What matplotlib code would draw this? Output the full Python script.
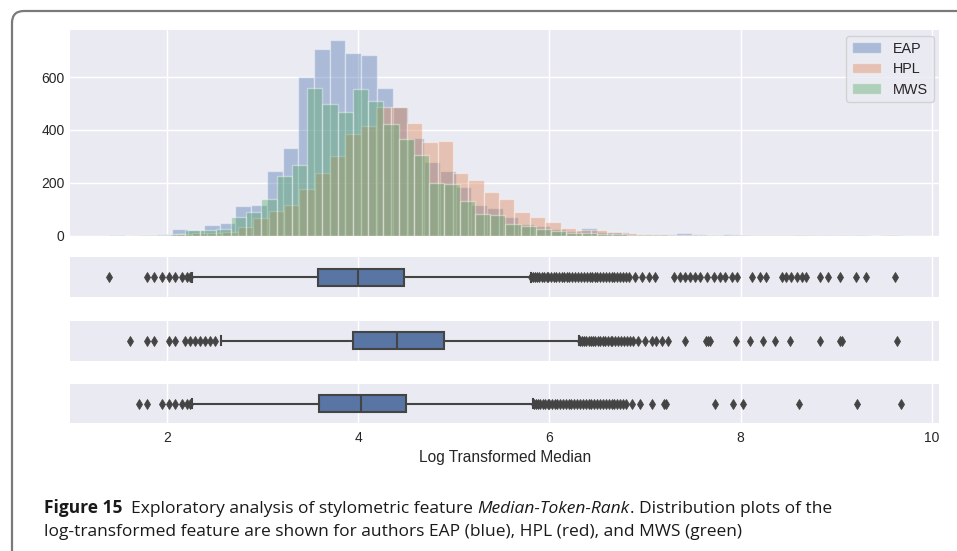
import matplotlib
matplotlib.use("Agg")
import matplotlib.pyplot as plt
import numpy as np
from matplotlib.patches import FancyBboxPatch

# ---------------- data ----------------
authors = ["EAP", "HPL", "MWS"]
hist_colors = ["#4C72B0", "#DD8452", "#55A868"]

# value range (min, max) of each author's log-transformed feature -> 50 bins each
eap_range = (1.396, 9.627)
hpl_range = (1.613, 9.654)
mws_range = (1.710, 9.686)

eap_counts = [1, 0, 3, 4, 23, 19, 38, 48, 111, 115,
              244, 330, 600, 707, 741, 693, 684, 558, 488, 370,
              279, 243, 185, 115, 103, 71, 43, 35, 25, 18,
              29, 15, 14, 6, 5, 4, 10, 4, 3, 4,
              2, 3, 1, 3, 2, 2, 1, 2, 0, 1]
hpl_counts = [1, 2, 3, 5, 8, 10, 15, 33, 68, 92,
              115, 178, 238, 301, 384, 415, 488, 488, 427, 354,
              357, 238, 210, 165, 137, 90, 70, 53, 30, 22,
              22, 12, 10, 6, 4, 3, 2, 3, 0, 1,
              1, 1, 1, 1, 1, 0, 2, 0, 0, 1]
mws_counts = [1, 2, 6, 20, 20, 23, 69, 90, 139, 226,
              269, 560, 497, 469, 554, 511, 423, 364, 306, 198,
              195, 130, 83, 77, 42, 35, 23, 16, 10, 8,
              6, 5, 3, 3, 2, 0, 0, 1, 1, 1,
              0, 0, 0, 1, 0, 0, 0, 1, 0, 1]

# box-plot statistics
eap_box = dict(whislo=2.258, q1=3.583, med=3.995, q3=4.482, whishi=5.804)
hpl_box = dict(whislo=2.565, q1=3.949, med=4.409, q3=4.901, whishi=6.310)
mws_box = dict(whislo=2.258, q1=3.593, med=4.029, q3=4.500, whishi=5.832)

eap_fliers = [1.386, 1.788, 1.867, 1.945, 2.014, 2.084, 2.154, 2.206, 2.241,
              5.81, 5.83, 5.85, 5.87, 5.89, 5.92, 5.94, 5.97, 5.99, 6.02, 6.05,
              6.07, 6.10, 6.13, 6.15, 6.18, 6.21, 6.24, 6.27, 6.30, 6.33, 6.36,
              6.39, 6.42, 6.45, 6.48, 6.50, 6.53, 6.56, 6.59, 6.62, 6.65, 6.68,
              6.71, 6.74, 6.77, 6.80, 6.83, 6.90, 6.97, 7.04, 7.10, 7.30, 7.37,
              7.42, 7.47, 7.52, 7.58, 7.65, 7.72, 7.79, 7.84, 7.91, 7.96, 8.12,
              8.20, 8.27, 8.43, 8.48, 8.53, 8.59, 8.64, 8.69, 8.83, 8.92, 9.04,
              9.21, 9.31, 9.62]
hpl_fliers = [1.613, 1.788, 1.867, 2.014, 2.084, 2.188, 2.241, 2.293, 2.345,
              2.397, 2.450, 2.502,
              6.32, 6.34, 6.36, 6.38, 6.41, 6.43, 6.46, 6.48, 6.51, 6.53, 6.56,
              6.58, 6.61, 6.64, 6.66, 6.69, 6.72, 6.75, 6.78, 6.81, 6.84, 6.87,
              6.93, 7.00, 7.07, 7.12, 7.18, 7.24, 7.42, 7.64, 7.66, 7.68, 7.95,
              8.10, 8.24, 8.36, 8.52, 8.83, 9.04, 9.06, 9.64]
mws_fliers = [1.710, 1.788, 1.945, 2.014, 2.084, 2.154, 2.206, 2.240,
              5.84, 5.86, 5.88, 5.90, 5.93, 5.95, 5.98, 6.00, 6.03, 6.06, 6.08,
              6.11, 6.14, 6.17, 6.20, 6.23, 6.26, 6.29, 6.32, 6.35, 6.38, 6.41,
              6.44, 6.47, 6.50, 6.53, 6.56, 6.59, 6.62, 6.65, 6.68, 6.71, 6.74,
              6.77, 6.80, 6.86, 6.95, 7.07, 7.20, 7.22, 7.73, 7.92, 8.03, 8.61,
              9.22, 9.68]

x_ticks = [2, 4, 6, 8, 10]
y_ticks = [0, 200, 400, 600]
x_label = "Log Transformed Median"
caption_line1 = [("Figure 15", "bold", "normal"),
                 ("  Exploratory analysis of stylometric feature ", "normal", "normal"),
                 ("Median-Token-Rank", "normal", "italic"),
                 (". Distribution plots of the", "normal", "normal")]
caption_line2 = [("log-transformed feature are shown for authors EAP (blue), HPL (red), and MWS (green)",
                  "normal", "normal")]

# ---------------- style ----------------
W, H = 957, 551
plt.rcParams["font.family"] = ["Liberation Sans", "DejaVu Sans"]
BG = "#EAEAF2"
TXT = "#262626"

fig = plt.figure(figsize=(W / 100, H / 100), dpi=100)
fig.patch.set_facecolor("white")


def px_axes(left, top, right, bottom):
    return fig.add_axes([left / W, 1 - bottom / H, (right - left) / W, (bottom - top) / H])


def style_ax(ax):
    ax.set_facecolor(BG)
    for s in ax.spines.values():
        s.set_visible(False)
    ax.grid(True, color="white", linewidth=1.0)
    ax.set_axisbelow(True)
    ax.tick_params(length=0, labelsize=10, labelcolor=TXT)


XL = (0.983, 10.08)
L, R = 70, 939.3

# histogram
axh = px_axes(L, 30, R, 235.5)
style_ax(axh)
ranges = [eap_range, hpl_range, mws_range]
counts = [eap_counts, hpl_counts, mws_counts]
for name, col, rng, cnt in zip(authors, hist_colors, ranges, counts):
    edges = np.linspace(rng[0], rng[1], len(cnt) + 1)
    centers = (edges[:-1] + edges[1:]) / 2
    axh.hist(centers, bins=edges, weights=cnt, color=col, alpha=0.4,
             edgecolor="white", linewidth=1.0, label=name)
axh.set_xlim(*XL)
axh.set_ylim(0, 779)
axh.set_xticks(x_ticks)
axh.set_xticklabels([])
axh.set_yticks(y_ticks)
axh.tick_params(axis="y", pad=4)
leg = axh.legend(loc="upper right", fontsize=10.4, frameon=True, fancybox=True,
                 borderaxespad=0.4, handlelength=2.0, labelspacing=0.45)
leg.get_frame().set_facecolor(BG)
leg.get_frame().set_edgecolor("#cccccc")
for t in leg.get_texts():
    t.set_color(TXT)

# boxplots
box_face = "#5875A4"
gray = "#444444"
box_rows = [(257.3, 297.3, eap_box, eap_fliers),
            (320.7, 360.7, hpl_box, hpl_fliers),
            (384.0, 423.3, mws_box, mws_fliers)]
for i, (top, bot, st, fl) in enumerate(box_rows):
    ax = px_axes(L, top, R, bot)
    style_ax(ax)
    stats = dict(st)
    stats["fliers"] = np.array(fl)
    ax.bxp([stats], positions=[0], widths=0.43, vert=False, patch_artist=True,
           showfliers=True,
           boxprops=dict(facecolor=box_face, edgecolor=gray, linewidth=1.5),
           medianprops=dict(color=gray, linewidth=1.5),
           whiskerprops=dict(color=gray, linewidth=1.5),
           capprops=dict(color=gray, linewidth=1.5),
           flierprops=dict(marker="d", markersize=5, markerfacecolor=gray,
                           markeredgecolor=gray, markeredgewidth=0.6, linestyle="none"))
    ax.set_xlim(*XL)
    ax.set_ylim(-0.5, 0.5)
    ax.set_yticks([])
    ax.set_xticks(x_ticks)
    if i < 2:
        ax.set_xticklabels([])
    else:
        ax.tick_params(axis="x", pad=5.5)
        ax.set_xlabel(x_label, fontsize=11.2, color=TXT, labelpad=3.5)

# outer rounded frame
frame = FancyBboxPatch((12, -60), 1100, 551 - 11 + 60,
                       boxstyle="round,pad=0,rounding_size=12",
                       transform=None, facecolor="none", edgecolor="#7a7a7a",
                       linewidth=1.6, clip_on=False)
fig.patches.append(frame)

# caption
renderer = fig.canvas.get_renderer()
cap_family = ["Open Sans", "DejaVu Sans"]
cap_size = 12.5


def draw_runs(x_px, y_px, runs):
    x = x_px
    for txt, weight, style in runs:
        t = fig.text(x / W, 1 - y_px / H, txt, fontsize=cap_size, fontweight=weight,
                     fontstyle=style, family=cap_family, va="baseline", ha="left",
                     color="#1a1a1a")
        bb = t.get_window_extent(renderer)
        x += bb.width


draw_runs(44, 513, caption_line1)
draw_runs(44, 536, caption_line2)

fig.savefig("out.png", dpi=100, facecolor="white")
